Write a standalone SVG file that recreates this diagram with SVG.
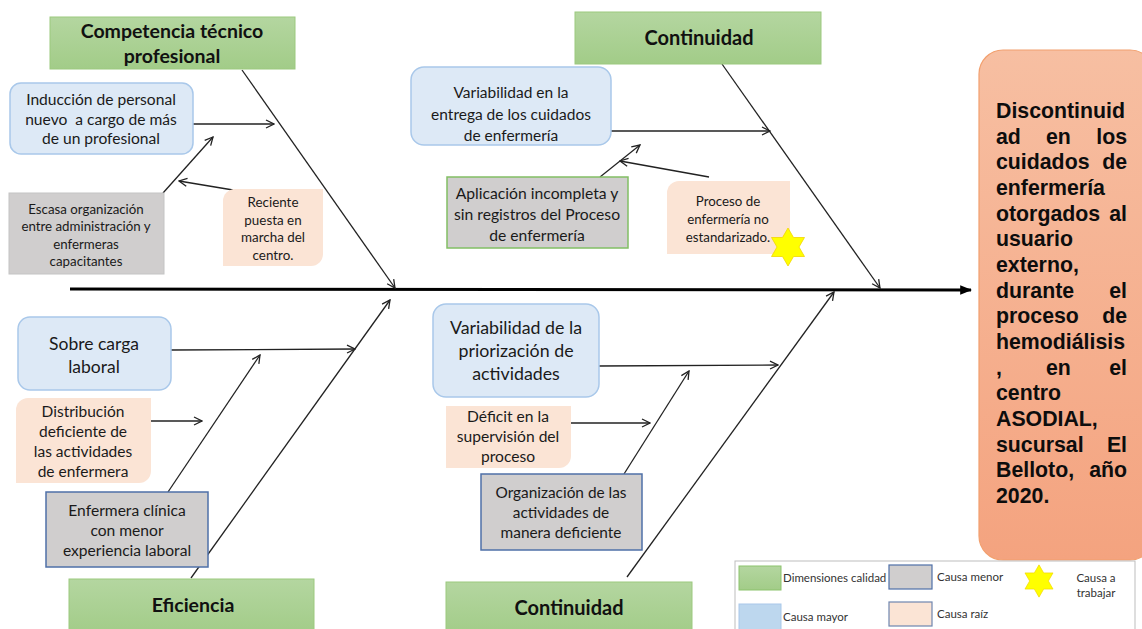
<svg xmlns="http://www.w3.org/2000/svg" width="1142" height="629" viewBox="0 0 1142 629">
  <style>
    .t { font-family: Lato, "Open Sans", "Liberation Sans", sans-serif; fill: #1a1a1a; text-anchor: middle; }
    .h { font-family: Lato, "Open Sans", "Liberation Sans", sans-serif; font-weight: bold; fill: #111; text-anchor: middle; }
    .dim { fill: url(#gGreen); stroke: #9cc97f; stroke-width: 1; }
    .major { fill: #dde9f6; stroke: #a9c8ea; stroke-width: 1.5; }
    .root { fill: #fbe4d5; stroke: none; }
    .minor { fill: #d0cece; }
    .bone { stroke: #222; stroke-width: 1.3; fill: none; marker-end: url(#open); }
    .lg { font-family: Lato, "Open Sans", "Liberation Sans", sans-serif; font-size: 11.5px; fill: #333; }
    .eff { font-family: "Liberation Sans", Arial, sans-serif; font-weight: bold; font-size: 21.3px; fill: #0d0d0d; }
  </style>
  <defs>
    <linearGradient id="gGreen" x1="0" y1="0" x2="0" y2="1">
      <stop offset="0" stop-color="#b4d6a0"/>
      <stop offset="1" stop-color="#a2cc88"/>
    </linearGradient>
    <linearGradient id="gEffect" x1="0" y1="0" x2="0" y2="1">
      <stop offset="0" stop-color="#f7bfa2"/>
      <stop offset="1" stop-color="#f4a37f"/>
    </linearGradient>
    <marker id="open" viewBox="0 0 10 10" refX="9" refY="5" markerWidth="10" markerHeight="10" markerUnits="userSpaceOnUse" orient="auto">
      <path d="M1,1 L9,5 L1,9" fill="none" stroke="#222" stroke-width="1.3"/>
    </marker>
    <marker id="solid" viewBox="0 0 10 10" refX="9" refY="5" markerWidth="4" markerHeight="4" orient="auto">
      <path d="M0,1 L10,5 L0,9 Z" fill="#000"/>
    </marker>
    <polygon id="star" points="0,-19 5.5,-9.5 16.5,-9.5 11,0 16.5,9.5 5.5,9.5 0,19 -5.5,9.5 -16.5,9.5 -11,0 -16.5,-9.5 -5.5,-9.5" fill="#ffff00" stroke="#f2d600" stroke-width="0.8"/>
  </defs>

  <rect width="1142" height="629" fill="#fff"/>

  <!-- connectors -->
  <g id="connectors">
    <line x1="70" y1="289" x2="971" y2="290" stroke="#000" stroke-width="3" marker-end="url(#solid)"/>
    <!-- upper bones -->
    <line class="bone" x1="242" y1="70" x2="395" y2="288"/>
    <line class="bone" x1="722" y1="64" x2="880" y2="288"/>
    <!-- lower bones -->
    <line class="bone" x1="191" y1="578" x2="390" y2="300"/>
    <line class="bone" x1="627" y1="577" x2="834" y2="292"/>
    <!-- competencia branch -->
    <line class="bone" x1="193" y1="124" x2="274" y2="124"/>
    <line class="bone" x1="163" y1="193" x2="213" y2="137"/>
    <line class="bone" x1="233" y1="190" x2="179" y2="181"/>
    <!-- continuidad upper branch -->
    <line class="bone" x1="611" y1="131" x2="770" y2="131"/>
    <line class="bone" x1="600" y1="177" x2="640" y2="145"/>
    <line class="bone" x1="709" y1="177" x2="620" y2="161"/>
    <!-- eficiencia branch -->
    <line class="bone" x1="171" y1="350" x2="355" y2="349"/>
    <line class="bone" x1="151" y1="421" x2="202" y2="421"/>
    <line class="bone" x1="168" y1="492" x2="260" y2="355"/>
    <!-- continuidad lower branch -->
    <line class="bone" x1="599" y1="366" x2="778" y2="365"/>
    <line class="bone" x1="571" y1="423" x2="650" y2="423"/>
    <line class="bone" x1="624" y1="474" x2="689" y2="371"/>
  </g>

  <!-- quality dimensions -->
  <g id="dim-competencia">
    <rect class="dim" x="50" y="17" width="245" height="52"/>
    <text class="h" x="172" y="38" font-size="19.5">Competencia técnico</text>
    <text class="h" x="172" y="63" font-size="19.5">profesional</text>
  </g>
  <g id="dim-continuidad-top">
    <rect class="dim" x="575" y="12" width="246" height="52"/>
    <text class="h" x="699" y="45" font-size="20">Continuidad</text>
  </g>
  <g id="dim-eficiencia">
    <rect class="dim" x="69" y="579" width="245" height="55"/>
    <text class="h" x="193" y="612" font-size="19.5">Eficiencia</text>
  </g>
  <g id="dim-continuidad-bottom">
    <rect class="dim" x="446" y="582" width="246" height="52"/>
    <text class="h" x="569" y="615" font-size="20">Continuidad</text>
  </g>

  <!-- competencia técnico profesional -->
  <g id="induccion">
    <rect class="major" x="10" y="83" width="183" height="71" rx="11"/>
    <text class="t" font-size="15.6"><tspan x="101" y="105">Inducción de personal</tspan><tspan x="101" y="125">nuevo&#160; a cargo de más</tspan><tspan x="101" y="144">de un profesional</tspan></text>
  </g>
  <g id="escasa">
    <rect class="minor" x="9" y="193" width="155" height="81" stroke="#c4c4c4" stroke-width="1"/>
    <text class="t" font-size="13.3"><tspan x="86" y="214">Escasa organización</tspan><tspan x="86" y="231">entre administración y</tspan><tspan x="86" y="249">enfermeras</tspan><tspan x="86" y="266">capacitantes</tspan></text>
  </g>
  <g id="reciente">
    <path class="root" d="M235,189 H323 V254 A12,12 0 0 1 311,266 H223 V201 A12,12 0 0 1 235,189 Z"/>
    <text class="t" font-size="13.4"><tspan x="273" y="207">Reciente</tspan><tspan x="273" y="225">puesta en</tspan><tspan x="273" y="242">marcha del</tspan><tspan x="273" y="260">centro.</tspan></text>
  </g>

  <!-- continuidad (superior) -->
  <g id="variabilidad-entrega">
    <rect class="major" x="411" y="67" width="200" height="78" rx="13"/>
    <text class="t" font-size="15.5"><tspan x="511" y="98">Variabilidad en la</tspan><tspan x="511" y="120">entrega de los cuidados</tspan><tspan x="511" y="141">de enfermería</tspan></text>
  </g>
  <g id="aplicacion">
    <rect class="minor" x="447" y="177" width="181" height="71" stroke="#82bf64" stroke-width="1.5"/>
    <text class="t" font-size="15.7"><tspan x="537" y="199">Aplicación incompleta y</tspan><tspan x="537" y="220">sin registros del Proceso</tspan><tspan x="537" y="241">de enfermería</tspan></text>
  </g>
  <g id="proceso">
    <path class="root" d="M679,181 H790 V254 H667 V193 A12,12 0 0 1 679,181 Z"/>
    <text class="t" font-size="13.3"><tspan x="728" y="206">Proceso de</tspan><tspan x="728" y="224">enfermería no</tspan><tspan x="728" y="242">estandarizado.</tspan></text>
    <use href="#star" x="788" y="247"/>
  </g>

  <!-- eficiencia -->
  <g id="sobrecarga">
    <rect class="major" x="18" y="317" width="153" height="73" rx="12"/>
    <text class="t" font-size="17.5"><tspan x="94" y="350">Sobre carga</tspan><tspan x="94" y="373">laboral</tspan></text>
  </g>
  <g id="distribucion">
    <path class="root" d="M28,398 H151 V471 A12,12 0 0 1 139,483 H16 V410 A12,12 0 0 1 28,398 Z"/>
    <text class="t" font-size="15.5"><tspan x="83" y="417">Distribución</tspan><tspan x="83" y="437">deficiente de</tspan><tspan x="83" y="457">las actividades</tspan><tspan x="83" y="477">de enfermera</tspan></text>
  </g>
  <g id="enfermera-clinica">
    <rect class="minor" x="46" y="492" width="162" height="75" stroke="#4f70a8" stroke-width="1.5"/>
    <text class="t" font-size="15.6"><tspan x="127" y="516">Enfermera clínica</tspan><tspan x="127" y="536">con menor</tspan><tspan x="127" y="556">experiencia laboral</tspan></text>
  </g>

  <!-- continuidad (inferior) -->
  <g id="variabilidad-priorizacion">
    <rect class="major" x="433" y="304" width="166" height="93" rx="13"/>
    <text class="t" font-size="17.8"><tspan x="516" y="334">Variabilidad de la</tspan><tspan x="516" y="357">priorización de</tspan><tspan x="516" y="380">actividades</tspan></text>
  </g>
  <g id="deficit">
    <path class="root" d="M446,406 H571 V456 A12,12 0 0 1 559,468 H446 Z"/>
    <text class="t" font-size="15.6"><tspan x="508" y="422">Déficit en la</tspan><tspan x="508" y="442">supervisión del</tspan><tspan x="508" y="462">proceso</tspan></text>
  </g>
  <g id="organizacion">
    <rect class="minor" x="481" y="474" width="161" height="76" stroke="#4f70a8" stroke-width="1.5"/>
    <text class="t" font-size="15.4"><tspan x="561" y="498">Organización de las</tspan><tspan x="561" y="518">actividades de</tspan><tspan x="561" y="538">manera deficiente</tspan></text>
  </g>

  <!-- effect -->
  <g id="efecto">
    <rect x="979" y="50" width="175" height="510" rx="24" fill="url(#gEffect)" stroke="#f2a06f" stroke-width="1.2"/>
    <text class="eff" x="996" y="118">Discontinuid</text>
    <text class="eff" y="143.7"><tspan x="996">ad</tspan><tspan x="1046">en</tspan><tspan x="1127" text-anchor="end">los</tspan></text>
    <text class="eff" y="169.3"><tspan x="996">cuidados</tspan><tspan x="1127" text-anchor="end">de</tspan></text>
    <text class="eff" x="996" y="195">enfermería</text>
    <text class="eff" y="220.7"><tspan x="996">otorgados</tspan><tspan x="1127" text-anchor="end">al</tspan></text>
    <text class="eff" x="996" y="246.3">usuario</text>
    <text class="eff" x="996" y="272">externo,</text>
    <text class="eff" y="297.7"><tspan x="996">durante</tspan><tspan x="1127" text-anchor="end">el</tspan></text>
    <text class="eff" y="323.3"><tspan x="996">proceso</tspan><tspan x="1127" text-anchor="end">de</tspan></text>
    <text class="eff" x="996" y="349">hemodiálisis</text>
    <text class="eff" y="374.7"><tspan x="996">,</tspan><tspan x="1046">en</tspan><tspan x="1127" text-anchor="end">el</tspan></text>
    <text class="eff" x="996" y="400.3">centro</text>
    <text class="eff" x="996" y="426">ASODIAL,</text>
    <text class="eff" y="451.7"><tspan x="996">sucursal</tspan><tspan x="1127" text-anchor="end">El</tspan></text>
    <text class="eff" y="477.3"><tspan x="996">Belloto,</tspan><tspan x="1127" text-anchor="end">año</tspan></text>
    <text class="eff" x="996" y="503">2020.</text>
  </g>

  <!-- legend -->
  <g id="legend">
    <rect x="735" y="561" width="400" height="75" fill="#fff" stroke="#bdbdbd" stroke-width="1"/>
    <rect x="739" y="566" width="42" height="24" fill="url(#gGreen)" stroke="#8cc36d" stroke-width="1"/>
    <text class="lg" x="783" y="582">Dimensiones calidad</text>
    <rect x="889" y="565" width="43" height="24" fill="#d0cece" stroke="#4f70a8" stroke-width="1.2"/>
    <text class="lg" x="937" y="581">Causa menor</text>
    <use href="#star" transform="translate(1039,581) scale(0.85)"/>
    <text class="lg" x="1096" y="582" text-anchor="middle">Causa a</text>
    <text class="lg" x="1096" y="597" text-anchor="middle">trabajar</text>
    <rect x="739" y="604" width="42" height="28" fill="#bdd7ee" stroke="#a9c8ea" stroke-width="1"/>
    <text class="lg" x="783" y="621">Causa mayor</text>
    <rect x="889" y="602" width="43" height="24" fill="#fbe4d5" stroke="#6f86b0" stroke-width="1.2"/>
    <text class="lg" x="937" y="618">Causa raíz</text>
  </g>
</svg>
